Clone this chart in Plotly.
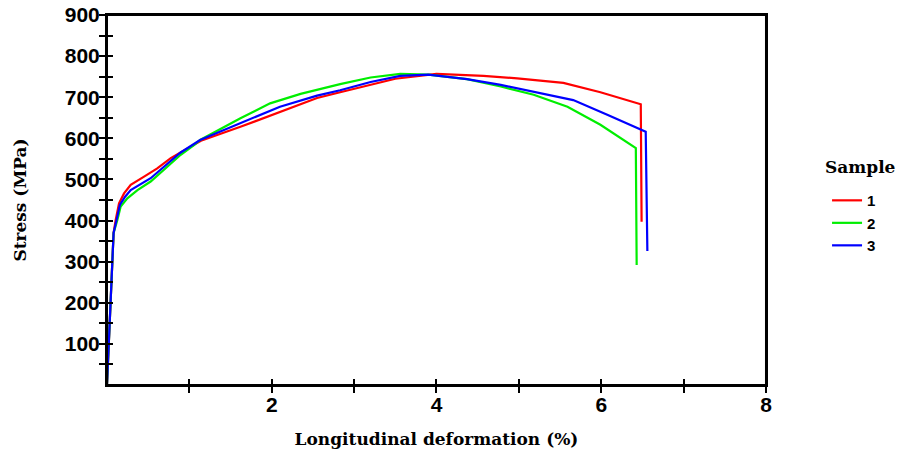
import plotly.graph_objects as go

# Sample 1 (red)
x1 = [0, 0.04, 0.08, 0.105, 0.146, 0.207, 0.288, 0.45, 0.61, 0.774, 0.975, 1.14, 1.62, 2.10, 2.55, 2.83, 3.20, 3.50, 4.00, 4.57, 4.98, 5.54, 5.99, 6.48, 6.49]
y1 = [0, 190, 370, 401, 442, 466, 487, 507, 527, 552, 576, 594, 628, 665, 698, 712, 730, 745, 757, 752, 746, 735, 712, 683, 397]
# Sample 2 (green)
x2 = [0, 0.04, 0.08, 0.125, 0.166, 0.247, 0.37, 0.53, 0.69, 0.895, 1.06, 1.13, 1.62, 1.98, 2.35, 2.83, 3.20, 3.56, 3.90, 4.37, 4.78, 5.18, 5.59, 5.99, 6.42, 6.43]
y2 = [0, 190, 370, 401, 434, 454, 474, 495, 523, 560, 584, 596, 649, 685, 708, 732, 748, 757, 755, 744, 726, 706, 677, 633, 576, 292]
# Sample 3 (blue)
x3 = [0, 0.04, 0.08, 0.115, 0.156, 0.22, 0.288, 0.53, 0.70, 0.89, 1.13, 1.62, 2.10, 2.55, 2.83, 3.20, 3.56, 3.90, 4.37, 4.78, 5.18, 5.66, 6.08, 6.54, 6.56]
y3 = [0, 190, 370, 401, 438, 458, 474, 503, 533, 565, 596, 637, 677, 704, 717, 737, 752, 755, 744, 730, 714, 693, 657, 616, 326]

series = [("1", x1, y1, "#FF0000"), ("2", x2, y2, "#00EE00"), ("3", x3, y3, "#0000FF")]

x_tickvals = [1, 2, 3, 4, 5, 6, 7, 8]
x_ticktext = ["", "2", "", "4", "", "6", "", "8"]
y_tickvals = [50, 100, 150, 200, 250, 300, 350, 400, 450, 500, 550, 600, 650, 700, 750, 800, 850, 900]
y_ticktext = ["", "100", "", "200", "", "300", "", "400", "", "500", "", "600", "", "700", "", "800", "", "900"]

fig = go.Figure()
for name, xs, ys, col in series:
    fig.add_trace(go.Scatter(x=xs, y=ys, mode="lines", name=name,
                             line=dict(color=col, width=2.2)))

# invisible trace so the overlay axes (inner half of crossing ticks) are drawn
fig.add_trace(go.Scatter(x=[0], y=[0], xaxis="x2", yaxis="y2", mode="markers",
                         marker=dict(opacity=0), showlegend=False, hoverinfo="skip"))

tickfont = dict(family="Liberation Sans, Arial", size=21, color="black", weight="bold")
serif = dict(family="DejaVu Serif", size=17, color="black", weight="bold")

XDOM = [0, 0.831]

fig.update_layout(
    width=900, height=452,
    margin=dict(l=107, r=0, t=15, b=67),
    paper_bgcolor="white", plot_bgcolor="white",
    showlegend=True,
    legend=dict(
        x=0.908, xanchor="left", y=0.543, yanchor="top",
        font=dict(family="Liberation Sans, Arial", size=15, color="black", weight="bold"),
        tracegroupgap=0, itemwidth=30, borderwidth=0, bgcolor="rgba(0,0,0,0)",
    ),
    annotations=[dict(text="Sample", xref="paper", yref="paper", x=0.9975, y=0.589,
                      xanchor="right", yanchor="middle", showarrow=False, font=serif)],
    shapes=[dict(type="rect", xref="x domain", yref="y domain", x0=0, x1=1, y0=0, y1=1,
                 line=dict(color="black", width=2), layer="above")],
    xaxis=dict(
        domain=XDOM, range=[0, 8], showgrid=False, zeroline=False, automargin=False,
        showline=True, linecolor="black", linewidth=2, mirror=True,
        ticks="outside", ticklen=6, tickwidth=2, tickcolor="black",
        tickvals=x_tickvals, ticktext=x_ticktext, tickfont=tickfont,
        ticklabelstandoff=-6, ticklabeloverflow="allow",
        title=dict(text="Longitudinal deformation (%)", font=serif, standoff=18),
    ),
    yaxis=dict(
        range=[0, 900], showgrid=False, zeroline=False, automargin=False,
        showline=True, linecolor="black", linewidth=2, mirror=True,
        ticks="outside", ticklen=6, tickwidth=2, tickcolor="black",
        tickvals=y_tickvals, ticktext=y_ticktext, tickfont=tickfont,
        ticklabelstandoff=-5, ticklabeloverflow="allow",
        title=dict(text="Stress (MPa)", font=serif, standoff=34),
    ),
    xaxis2=dict(
        domain=XDOM, range=[0, 8], overlaying="x", anchor="y", side="bottom", automargin=False,
        showgrid=False, zeroline=False, showline=False,
        ticks="inside", ticklen=6, tickwidth=2, tickcolor="black",
        tickvals=x_tickvals, showticklabels=False,
    ),
    yaxis2=dict(
        range=[0, 900], overlaying="y", anchor="x", side="left", automargin=False,
        showgrid=False, zeroline=False, showline=False,
        ticks="inside", ticklen=6, tickwidth=2, tickcolor="black",
        tickvals=y_tickvals, showticklabels=False,
    ),
)

# remove the page's default 8px body margin so the 900x452 figure fills the window
fig.write_html("out.html", config={"displayModeBar": False},
               post_script="document.body.style.margin='0';")
